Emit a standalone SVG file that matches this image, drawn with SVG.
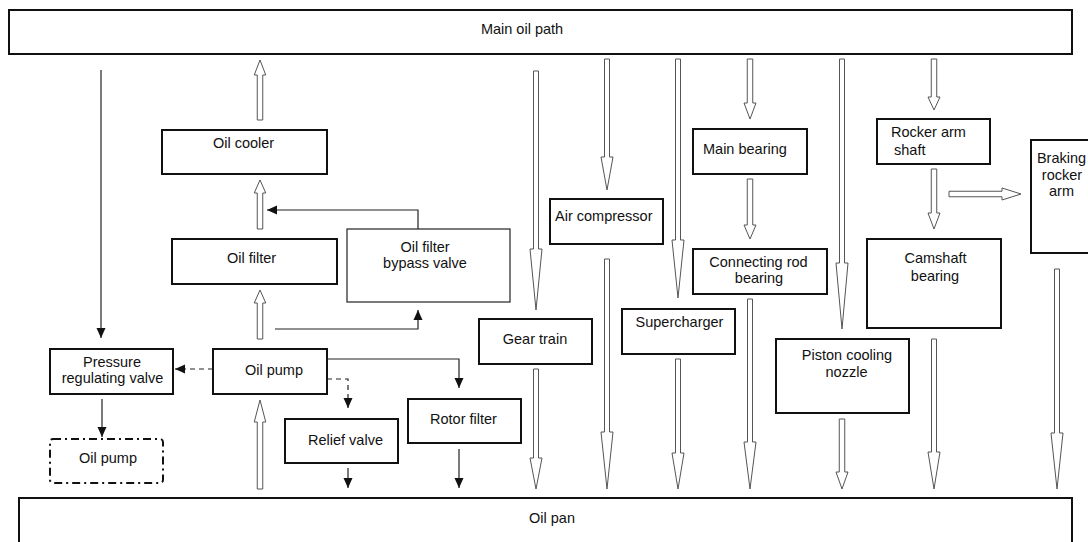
<svg xmlns="http://www.w3.org/2000/svg" width="1088" height="542" viewBox="0 0 1088 542">
<defs>
<style>
.box{fill:#fff;stroke:#111;stroke-width:2}
.thin{fill:#fff;stroke:#222;stroke-width:1.2}
.dd{fill:#fff;stroke:#111;stroke-width:2;stroke-dasharray:8 4 2 4}
.t{font-family:"Liberation Sans",Arial,sans-serif;font-size:14.5px;fill:#111}
.c{text-anchor:middle}
.ha{fill:#fff;stroke:#555;stroke-width:1}
.ln{fill:none;stroke:#222;stroke-width:1.2}
.dash{stroke-dasharray:5 4}
</style>
<marker id="ah" markerUnits="userSpaceOnUse" markerWidth="10" markerHeight="10" refX="10" refY="5" orient="auto">
<path d="M0,0.5 L10,5 L0,9.5 Z" fill="#111"/>
</marker>
</defs>
<rect width="1088" height="542" fill="#fff"/>

<g id="main-oil-path"><rect class="box" x="9" y="10" width="1063" height="44"/><text class="t c" x="522" y="34">Main oil path</text></g>
<g id="oil-cooler"><rect class="box" x="162" y="130" width="165" height="44"/><text class="t c" x="243.5" y="148">Oil cooler</text></g>
<g id="oil-filter"><rect class="box" x="172" y="239" width="165" height="45"/><text class="t c" x="251.5" y="263">Oil filter</text></g>
<g id="bypass-valve"><rect class="thin" x="347" y="229" width="163" height="73"/><text class="t c" x="425" y="252">Oil filter</text><text class="t c" x="425" y="268">bypass valve</text></g>
<g id="pressure-regulating-valve"><rect class="box" x="50" y="349" width="123" height="45"/><text class="t c" x="112" y="367">Pressure</text><text class="t c" x="112.5" y="383">regulating valve</text></g>
<g id="oil-pump"><rect class="box" x="213" y="349" width="114" height="45"/><text class="t c" x="274" y="375">Oil pump</text></g>
<g id="oil-pump-2"><rect class="dd" x="50" y="439" width="113" height="44" rx="3"/><text class="t c" x="108" y="463">Oil pump</text></g>
<g id="relief-valve"><rect class="box" x="285" y="419" width="113" height="44"/><text class="t" x="308" y="445">Relief valve</text></g>
<g id="rotor-filter"><rect class="box" x="408" y="399" width="113" height="44"/><text class="t c" x="463.5" y="424">Rotor filter</text></g>
<g id="gear-train"><rect class="box" x="479" y="319" width="113" height="45"/><text class="t c" x="535" y="344">Gear train</text></g>
<g id="air-compressor"><rect class="box" x="550" y="199" width="113" height="45"/><text class="t" x="555" y="221">Air compressor</text></g>
<g id="supercharger"><rect class="box" x="622" y="309" width="113" height="45"/><text class="t c" x="679.5" y="327">Supercharger</text></g>
<g id="main-bearing"><rect class="box" x="693" y="129" width="114" height="45"/><text class="t" x="703" y="154">Main bearing</text></g>
<g id="connecting-rod-bearing"><rect class="box" x="693" y="249" width="134" height="45"/><text class="t c" x="758.5" y="267">Connecting rod</text><text class="t c" x="759" y="283">bearing</text></g>
<g id="piston-cooling-nozzle"><rect class="box" x="776" y="339" width="133" height="74"/><text class="t c" x="847" y="360">Piston cooling</text><text class="t c" x="846.5" y="377">nozzle</text></g>
<g id="rocker-arm-shaft"><rect class="box" x="877" y="119" width="113" height="45"/><text class="t" x="891" y="137">Rocker arm</text><text class="t" x="894" y="155">shaft</text></g>
<g id="braking-rocker-arm"><rect class="box" x="1031" y="140" width="62" height="113"/><text class="t c" x="1061.5" y="163">Braking</text><text class="t c" x="1062" y="180">rocker</text><text class="t c" x="1061.5" y="196">arm</text></g>
<g id="camshaft-bearing"><rect class="box" x="867" y="239" width="134" height="89"/><text class="t c" x="935.5" y="263">Camshaft</text><text class="t c" x="935" y="281">bearing</text></g>
<g id="oil-pan"><rect class="box" x="19" y="498" width="1053" height="50"/><text class="t c" x="552" y="523">Oil pan</text></g>

<g id="connectors">
<!-- hollow up arrows -->
<path class="ha" d="M257.25,120 L257.25,75 L254.25,75 L260,60 L265.75,75 L262.75,75 L262.75,120 Z"/>
<path class="ha" d="M257.25,229 L257.25,193 L254.25,193 L260,180 L265.75,193 L262.75,193 L262.75,229 Z"/>
<path class="ha" d="M257.25,339 L257.25,303 L254.25,303 L260,290 L265.75,303 L262.75,303 L262.75,339 Z"/>
<path class="ha" d="M257.25,489 L257.25,422 L254.25,422 L260,400 L265.75,422 L262.75,422 L262.75,489 Z"/>
<!-- hollow down arrows -->
<path class="ha" d="M533.5,71 L538.5,71 L538.5,249 L542,249 L536,310 L530,249 L533.5,249 Z"/>
<path class="ha" d="M533.5,369 L538.5,369 L538.5,458 L542,458 L536,489 L530,458 L533.5,458 Z"/>
<path class="ha" d="M604.5,59 L609.5,59 L609.5,157 L613,157 L607,190 L601,157 L604.5,157 Z"/>
<path class="ha" d="M604.5,259 L609.5,259 L609.5,432 L613,432 L607,489 L601,432 L604.5,432 Z"/>
<path class="ha" d="M675.5,59 L680.5,59 L680.5,240 L684,240 L678,298 L672,240 L675.5,240 Z"/>
<path class="ha" d="M675.5,359 L680.5,359 L680.5,453 L684,453 L678,489 L672,453 L675.5,453 Z"/>
<path class="ha" d="M747.25,59 L752.75,59 L752.75,103 L756,103 L750,119 L744,103 L747.25,103 Z"/>
<path class="ha" d="M747.25,179 L752.75,179 L752.75,225 L756,225 L750,239 L744,225 L747.25,225 Z"/>
<path class="ha" d="M747.5,299 L752.5,299 L752.5,442 L756,442 L750,489 L744,442 L747.5,442 Z"/>
<path class="ha" d="M839.5,59 L844.5,59 L844.5,263 L848,263 L842,329 L836,263 L839.5,263 Z"/>
<path class="ha" d="M839.25,419 L844.75,419 L844.75,472 L848,472 L842,489 L836,472 L839.25,472 Z"/>
<path class="ha" d="M931.25,59 L936.75,59 L936.75,97 L940,97 L934,110 L928,97 L931.25,97 Z"/>
<path class="ha" d="M931.25,169 L936.75,169 L936.75,213 L940,213 L934,229 L928,213 L931.25,213 Z"/>
<path class="ha" d="M931.5,339 L936.5,339 L936.5,452 L940,452 L934,489 L928,452 L931.5,452 Z"/>
<path class="ha" d="M1054.5,269 L1059.5,269 L1059.5,433 L1063,433 L1057,489 L1051,433 L1054.5,433 Z"/>
<!-- hollow right arrow -->
<path class="ha" d="M949,191.25 L1002,191.25 L1002,188 L1021,194 L1002,200 L1002,196.75 L949,196.75 Z"/>
<!-- line arrows -->
<path class="ln" d="M101,70 L101,338" marker-end="url(#ah)"/>
<path class="ln" d="M418,229 L418,210 L267,210" marker-end="url(#ah)"/>
<path class="ln" d="M275,329 L418,329 L418,310" marker-end="url(#ah)"/>
<path class="ln dash" d="M213,369 L175,369" marker-end="url(#ah)"/>
<path class="ln dash" d="M327,379 L348,379 L348,408" marker-end="url(#ah)"/>
<path class="ln" d="M327,359 L459,359 L459,388" marker-end="url(#ah)"/>
<path class="ln" d="M102,399 L102,437" marker-end="url(#ah)"/>
<path class="ln" d="M348,468 L348,488" marker-end="url(#ah)"/>
<path class="ln" d="M459,449 L459,488" marker-end="url(#ah)"/>
</g>
</svg>
